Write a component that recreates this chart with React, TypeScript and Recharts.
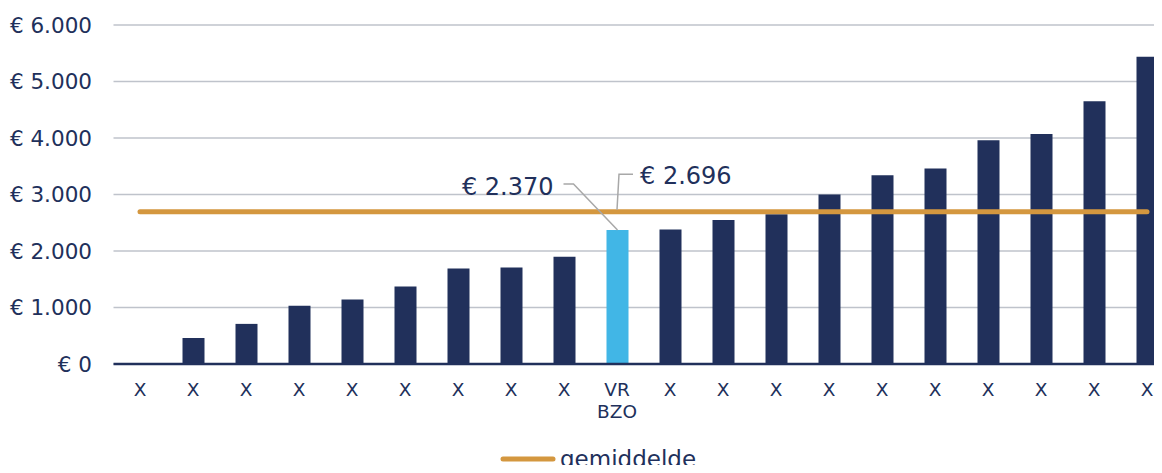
import React from 'react';
import {
  ComposedChart,
  Bar,
  Line,
  Cell,
  XAxis,
  YAxis,
  CartesianGrid,
  Legend,
  LabelList
} from 'recharts';

const categories = ['X', 'X', 'X', 'X', 'X', 'X', 'X', 'X', 'X', 'VR\nBZO', 'X', 'X', 'X', 'X', 'X', 'X', 'X', 'X', 'X', 'X'];
const costs = [0, 460, 710, 1030, 1140, 1370, 1690, 1710, 1900, 2370, 2380, 2550, 2650, 3000, 3340, 3460, 3960, 4070, 4650, 5440];
const average = 2696;
const highlightIndex = 9;
const yTicks = [0, 1000, 2000, 3000, 4000, 5000, 6000];

const NAVY = '#21305b';
const LIGHT_BLUE = '#41b6e6';
const ORANGE = '#d4973f';
const FONT = '"DejaVu Sans", Verdana, sans-serif';

const euro = (v: number) => '€ ' + String(v).replace(/\B(?=(\d{3})+(?!\d))/g, '.');

const data = categories.map((name, i) => ({
  name,
  cost: costs[i],
  gemiddelde: average,
  barNote: i === highlightIndex ? euro(costs[i]) : null,
  lineNote: i === highlightIndex ? euro(average) : null
}));

const XTick = ({ x, y, payload }: any) => {
  const lines = String(payload.value).split('\n');
  return (
    <text x={x} y={y} textAnchor="middle" fill={NAVY} fontSize={18.5} fontFamily={FONT}>
      {lines.map((l, i) => (
        <tspan key={i} x={x} dy={i === 0 ? '0.71em' : 22}>{l}</tspan>
      ))}
    </text>
  );
};

const BarNote = (props: any) => {
  if (props.value == null) return null;
  const vb = props.viewBox || props;
  const cx = vb.x + vb.width / 2;
  const top = vb.y;
  return (
    <g>
      <path
        d={`M${cx},${top} L${cx - 44},${top - 46} L${cx - 54},${top - 46}`}
        fill="none"
        stroke="#a8a8a8"
        strokeWidth={1.5}
      />
      <text x={cx - 64} y={top - 35} textAnchor="end" fill={NAVY} fontSize={24} fontFamily={FONT}>
        {props.value}
      </text>
    </g>
  );
};

const LineNote = (props: any) => {
  if (props.value == null) return null;
  const vb = props.viewBox || props;
  const px = vb.x;
  const py = vb.y;
  return (
    <g>
      <path
        d={`M${px},${py - 2} L${px + 2},${py - 37.5} L${px + 16},${py - 37.5}`}
        fill="none"
        stroke="#a8a8a8"
        strokeWidth={1.5}
      />
      <text x={px + 23} y={py - 27.5} textAnchor="start" fill={NAVY} fontSize={24} fontFamily={FONT}>
        {props.value}
      </text>
    </g>
  );
};

const LegendContent = () => (
  <svg width={220} height={30} style={{ display: 'block', overflow: 'visible' }}>
    <line x1={5} y1={14} x2={55} y2={14} stroke={ORANGE} strokeWidth={5} strokeLinecap="round" />
    <text x={62} y={22} fill={NAVY} fontSize={23} fontFamily={FONT}>gemiddelde</text>
  </svg>
);

export default function App() {
  return (
    <div style={{ margin: -8, width: 1162, height: 473, overflow: 'hidden', position: 'relative', background: '#fff' }}>
      <ComposedChart
        width={1180}
        height={473}
        data={data}
        margin={{ top: 25, right: 6.5, left: 0, bottom: 0 }}
      >
        <CartesianGrid vertical={false} stroke="#bfc3cb" strokeWidth={1.3} />
        <XAxis
          dataKey="name"
          height={109}
          tickLine={false}
          tickMargin={13}
          axisLine={{ stroke: NAVY, strokeWidth: 2.5 }}
          tick={<XTick />}
          interval={0}
        />
        <YAxis
          width={113.5}
          domain={[0, 6000]}
          ticks={yTicks}
          tickFormatter={euro}
          axisLine={false}
          tickLine={false}
          tickMargin={15.5}
          tick={{ fill: NAVY, fontSize: 21.5, fontFamily: FONT }}
        />
        <Legend
          layout="horizontal"
          verticalAlign="middle"
          align="center"
          content={<LegendContent />}
          wrapperStyle={{ top: 445, left: 498, width: 220, height: 30 }}
        />
        <Bar dataKey="cost" barSize={22} isAnimationActive={false} legendType="none">
          {data.map((d, i) => (
            <Cell key={i} fill={i === highlightIndex ? LIGHT_BLUE : NAVY} />
          ))}
          <LabelList dataKey="barNote" content={<BarNote />} />
        </Bar>
        <Line
          dataKey="gemiddelde"
          stroke={ORANGE}
          strokeWidth={5}
          strokeLinecap="round"
          dot={false}
          activeDot={false}
          isAnimationActive={false}
        >
          <LabelList dataKey="lineNote" content={<LineNote />} />
        </Line>
      </ComposedChart>
    </div>
  );
}
